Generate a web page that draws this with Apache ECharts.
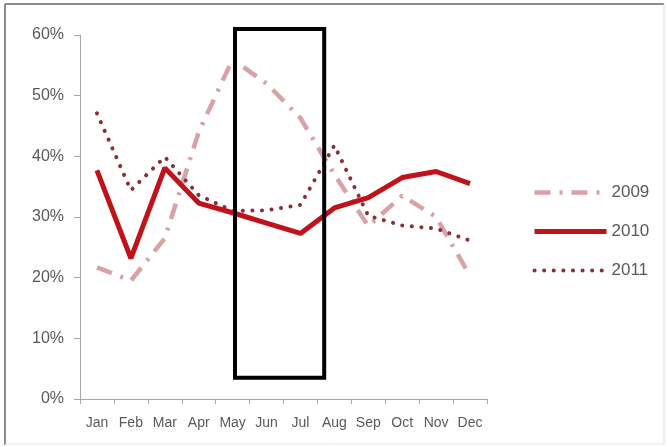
<!DOCTYPE html>
<html>
<head>
<meta charset="utf-8">
<script src="https://cdn.jsdelivr.net/npm/echarts@6/dist/echarts.min.js"></script>
<style>
  html, body { margin: 0; padding: 0; background: #fff; }
  #chart { width: 667px; height: 447px; }
</style>
</head>
<body>
<div id="chart"></div>
<script>
// Monthly share by year (percent)
const months = ['Jan', 'Feb', 'Mar', 'Apr', 'May', 'Jun', 'Jul', 'Aug', 'Sep', 'Oct', 'Nov', 'Dec'];
const values2009 = [21.7, 19.5, 26.5, 44, 56, 52, 46.3, 37, 28.5, 33.5, 30, 20.3];
const values2010 = [37.7, 23.2, 38.1, 32.3, 30.7, 29, 27.3, 31.5, 33.2, 36.5, 37.5, 35.5];
const values2011 = [47.1, 34.4, 39.9, 33.6, 31, 31.1, 32, 41.8, 30.2, 28.6, 28.1, 26.1];
const yTicks = { min: 0, max: 60, interval: 10 };

const chart = echarts.init(document.getElementById('chart'));
const textColor = '#595959';
const axisColor = '#a6a6a6';
const font = 'Liberation Sans';

const style2009 = { color: '#d8a2a6', width: 4.5, type: [16, 9, 3, 9] };
const style2010 = { color: '#c1121c', width: 5 };
const style2011 = { color: '#8a2e38', width: 4, type: [0.1, 9.5], cap: 'round' };

chart.setOption({
  animation: false,
  backgroundColor: '#fff',
  grid: { left: 80, right: 180, top: 35, bottom: 48, containLabel: false },
  legend: {
    orient: 'vertical',
    left: 527,
    top: 179,
    itemWidth: 72,
    itemHeight: 18,
    itemGap: 22,
    itemStyle: { opacity: 0 },
    textStyle: { color: textColor, fontSize: 17, fontFamily: font },
    data: [
      { name: '2009', lineStyle: style2009 },
      { name: '2010', lineStyle: style2010 },
      { name: '2011', lineStyle: style2011 }
    ]
  },
  xAxis: {
    type: 'category',
    data: months,
    boundaryGap: true,
    axisLine: { lineStyle: { color: axisColor, width: 1 } },
    axisTick: { show: true, length: 5, lineStyle: { color: axisColor } },
    axisLabel: { color: textColor, fontSize: 14, fontFamily: font, margin: 17, interval: 0 },
    splitLine: { show: false }
  },
  yAxis: {
    type: 'value',
    min: yTicks.min,
    max: yTicks.max,
    interval: yTicks.interval,
    axisLine: { show: true, lineStyle: { color: axisColor, width: 1 } },
    axisTick: { show: true, length: 6, lineStyle: { color: axisColor } },
    axisLabel: { color: textColor, fontSize: 16, fontFamily: font, margin: 16, formatter: '{value}%' },
    splitLine: { show: false }
  },
  series: [
    {
      name: '2009',
      type: 'line',
      data: values2009,
      symbol: 'none',
      lineStyle: style2009,
      itemStyle: { color: style2009.color },
      z: 2
    },
    {
      name: '2010',
      type: 'line',
      data: values2010,
      symbol: 'none',
      lineStyle: style2010,
      itemStyle: { color: style2010.color },
      z: 4
    },
    {
      name: '2011',
      type: 'line',
      data: values2011,
      symbol: 'none',
      lineStyle: style2011,
      itemStyle: { color: style2011.color },
      z: 3
    }
  ]
});

// Highlight box spanning May to late July, and the outer frame
const step = chart.convertToPixel({ xAxisIndex: 0 }, 'Jun') - chart.convertToPixel({ xAxisIndex: 0 }, 'May');
const boxLeft = chart.convertToPixel({ xAxisIndex: 0 }, 'May') + 0.07 * step;
const boxRight = chart.convertToPixel({ xAxisIndex: 0 }, 'Jul') + 0.7 * step;
const boxTop = chart.convertToPixel({ yAxisIndex: 0 }, 61);
const boxBottom = chart.convertToPixel({ yAxisIndex: 0 }, 3.5);

chart.setOption({
  graphic: [
    {
      type: 'rect',
      shape: { x: boxLeft, y: boxTop, width: boxRight - boxLeft, height: boxBottom - boxTop },
      style: { fill: 'none', stroke: '#000', lineWidth: 4 },
      z: 10
    },
    { type: 'line', shape: { x1: 5, y1: 4, x2: 664, y2: 4 }, style: { stroke: '#8c8c8c', lineWidth: 2 } },
    { type: 'line', shape: { x1: 5, y1: 4, x2: 5, y2: 445 }, style: { stroke: '#8c8c8c', lineWidth: 2 } },
    { type: 'line', shape: { x1: 664, y1: 4, x2: 664, y2: 444 }, style: { stroke: '#dcdcdc', lineWidth: 1 } },
    { type: 'line', shape: { x1: 5, y1: 444, x2: 664, y2: 444 }, style: { stroke: '#e4e4e4', lineWidth: 1 } }
  ]
});
</script>
</body>
</html>
